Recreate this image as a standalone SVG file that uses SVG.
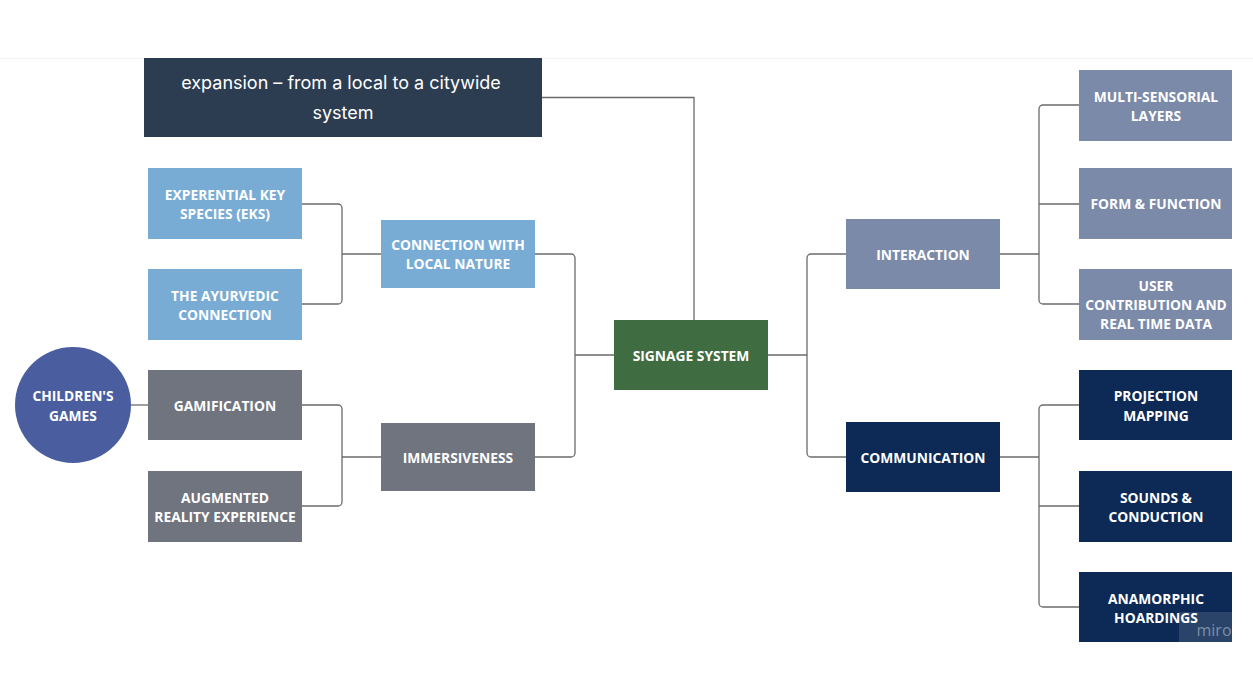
<svg xmlns="http://www.w3.org/2000/svg" width="1253" height="674" viewBox="0 0 1253 674">
<style>
.t{font-family:"Open Sans","Liberation Sans",sans-serif;font-weight:700;font-size:13.8px;fill:#fff;text-anchor:middle}
.h{font-family:Inter,"Open Sans","Liberation Sans",sans-serif;font-size:18px;fill:#fff;text-anchor:middle}
.c{fill:none;stroke:#6b6b6b;stroke-width:1.3}
.lb{fill:#79acd5}.gr{fill:#6f747e}.sl{fill:#7b8aa9}.nv{fill:#0c2a55}
</style>
<rect width="1253" height="674" fill="#fff"/>
<line x1="0" y1="58.5" x2="1253" y2="58.5" stroke="#f2f2f2" stroke-width="1"/>
<g id="connectors">
<path class="c" d="M542 97.5H694V320" stroke="#555"/>
<path class="c" d="M614 355H575M535 254H571a4 4 0 0 1 4 4V453a4 4 0 0 1-4 4H535"/>
<path class="c" d="M381 254H342M302 204H338a4 4 0 0 1 4 4V300a4 4 0 0 1-4 4H302"/>
<path class="c" d="M381 457H342M302 405H338a4 4 0 0 1 4 4V502a4 4 0 0 1-4 4H302"/>
<path class="c" d="M131 405H148"/>
<path class="c" d="M768 355H807M846 254H811a4 4 0 0 0-4 4V453a4 4 0 0 0 4 4H846"/>
<path class="c" d="M1000 254H1039M1079 105H1043a4 4 0 0 0-4 4V300a4 4 0 0 0 4 4H1079M1039 204H1079" stroke="#444"/>
<path class="c" d="M1000 457H1039M1079 405H1043a4 4 0 0 0-4 4V603a4 4 0 0 0 4 4H1079M1039 506H1079" stroke="#444"/>
</g>
<g id="expansion"><rect x="144" y="58" width="398" height="79" fill="#2c3d51"/><text class="h" x="341" y="89">expansion – from a local to a citywide</text><text class="h" x="343" y="119">system</text></g>
<g id="signage"><rect x="614" y="320" width="154" height="70" fill="#3f6c41"/><text class="t" x="691" y="361">SIGNAGE SYSTEM</text></g>
<g id="connection"><rect class="lb" x="381" y="220" width="154" height="68"/><text class="t" x="458" y="250">CONNECTION WITH</text><text class="t" x="458" y="269">LOCAL NATURE</text></g>
<g id="eks"><rect class="lb" x="148" y="168" width="154" height="71"/><text class="t" x="225" y="200">EXPERENTIAL KEY</text><text class="t" x="225" y="219">SPECIES (EKS)</text></g>
<g id="ayurvedic"><rect class="lb" x="148" y="269" width="154" height="71"/><text class="t" x="225" y="301">THE AYURVEDIC</text><text class="t" x="225" y="320">CONNECTION</text></g>
<g id="immersiveness"><rect class="gr" x="381" y="423" width="154" height="68"/><text class="t" x="458" y="463">IMMERSIVENESS</text></g>
<g id="gamification"><rect class="gr" x="148" y="370" width="154" height="70"/><text class="t" x="225" y="411">GAMIFICATION</text></g>
<g id="augmented"><rect class="gr" x="148" y="471" width="154" height="71"/><text class="t" x="225" y="503">AUGMENTED</text><text class="t" x="225" y="522">REALITY EXPERIENCE</text></g>
<g id="children"><circle cx="73" cy="405" r="58" fill="#4a5e9f"/><text class="t" x="73" y="401">CHILDREN'S</text><text class="t" x="73" y="421">GAMES</text></g>
<g id="interaction"><rect class="sl" x="846" y="219" width="154" height="70"/><text class="t" x="923" y="260">INTERACTION</text></g>
<g id="communication"><rect class="nv" x="846" y="422" width="154" height="70"/><text class="t" x="923" y="463">COMMUNICATION</text></g>
<g id="multi"><rect class="sl" x="1079" y="70" width="153" height="71"/><text class="t" x="1156" y="102">MULTI-SENSORIAL</text><text class="t" x="1156" y="121">LAYERS</text></g>
<g id="form"><rect class="sl" x="1079" y="168" width="153" height="71"/><text class="t" x="1156" y="209">FORM &amp; FUNCTION</text></g>
<g id="user"><rect class="sl" x="1079" y="269" width="153" height="71"/><text class="t" x="1156" y="291">USER</text><text class="t" x="1156" y="310">CONTRIBUTION AND</text><text class="t" x="1156" y="329">REAL TIME DATA</text></g>
<g id="projection"><rect class="nv" x="1079" y="370" width="153" height="70"/><text class="t" x="1156" y="401">PROJECTION</text><text class="t" x="1156" y="421">MAPPING</text></g>
<g id="sounds"><rect class="nv" x="1079" y="471" width="153" height="71"/><text class="t" x="1156" y="503">SOUNDS &amp;</text><text class="t" x="1156" y="522">CONDUCTION</text></g>
<g id="anamorphic"><rect class="nv" x="1079" y="572" width="153" height="70"/><text class="t" x="1156" y="604">ANAMORPHIC</text><text class="t" x="1156" y="623">HOARDINGS</text></g>
<g id="watermark"><rect x="1179" y="612" width="53" height="30" fill="#ffffff" fill-opacity="0.12"/><text x="1214" y="636" font-family="Open Sans,Liberation Sans,sans-serif" font-size="16" fill="#ffffff" fill-opacity="0.4" text-anchor="middle">miro</text></g>
</svg>
